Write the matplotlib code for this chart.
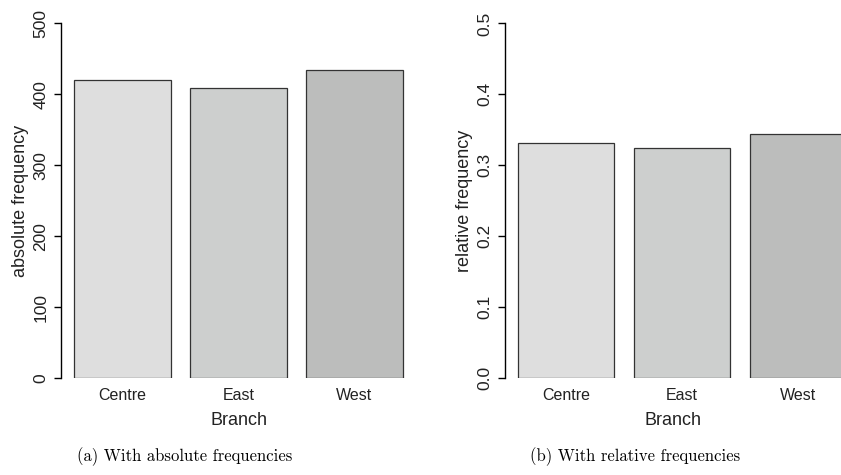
import matplotlib.pyplot as plt

# data
branches = ['Centre', 'East', 'West']
abs_freq = [420, 409, 434]
rel_freq = [0.332, 0.324, 0.344]
bar_colors = ['#dedede', '#cdcfce', '#bcbdbc']

abs_ticks = [0, 100, 200, 300, 400, 500]
rel_ticks = [0.0, 0.1, 0.2, 0.3, 0.4, 0.5]
captions = ['(a) With absolute frequencies', '(b) With relative frequencies']

plt.rcParams['font.family'] = ['Liberation Sans', 'DejaVu Sans']

W, H = 841, 475
fig = plt.figure(figsize=(W / 100, H / 100), dpi=100)


def px_axes(x0, x1, ytop, ybot):
    return fig.add_axes([x0 / W, (H - ybot) / H, (x1 - x0) / W, (ybot - ytop) / H])


def r_barplot(ax, values, ticks, tick_fmt, ylabel, xlim):
    pos = range(len(values))
    ax.bar(pos, values, width=0.833, color=bar_colors, edgecolor='#333333', linewidth=0.9)
    ax.set_xlim(*xlim)
    ax.set_ylim(ticks[0], ticks[-1])
    for side in ['top', 'right', 'bottom']:
        ax.spines[side].set_visible(False)
    ax.spines['left'].set_bounds(ticks[0], ticks[-1])
    ax.spines['left'].set_linewidth(1.0)
    ax.set_yticks(ticks)
    ax.set_yticklabels([tick_fmt.format(t) for t in ticks], rotation=90, va='center',
                       fontsize=12.5, color='#222222')
    ax.tick_params(axis='y', length=5, width=1.0, pad=4)
    ax.set_xticks(list(pos))
    ax.set_xticklabels(branches, fontsize=11.5, color='#222222')
    ax.tick_params(axis='x', length=0, pad=7)
    ax.set_xlabel('Branch', fontsize=13, labelpad=7, color='#222222')
    ax.set_ylabel(ylabel, fontsize=13, labelpad=3.5, color='#222222')
    ax.patch.set_alpha(0)


ax1 = px_axes(61, 416, 23.5, 378)
r_barplot(ax1, abs_freq, abs_ticks, '{:d}', 'absolute frequency', (-0.528, 2.53))

ax2 = px_axes(505, 841, 23.5, 378)
r_barplot(ax2, rel_freq, rel_ticks, '{:.1f}', 'relative frequency', (-0.526, 2.37))

fig.text(185 / W, 1 - 457 / H, captions[0], fontname='cmr10', fontsize=12, ha='center', va='center')
fig.text(635 / W, 1 - 457 / H, captions[1], fontname='cmr10', fontsize=12, ha='center', va='center')

fig.savefig('out.png', dpi=100)
